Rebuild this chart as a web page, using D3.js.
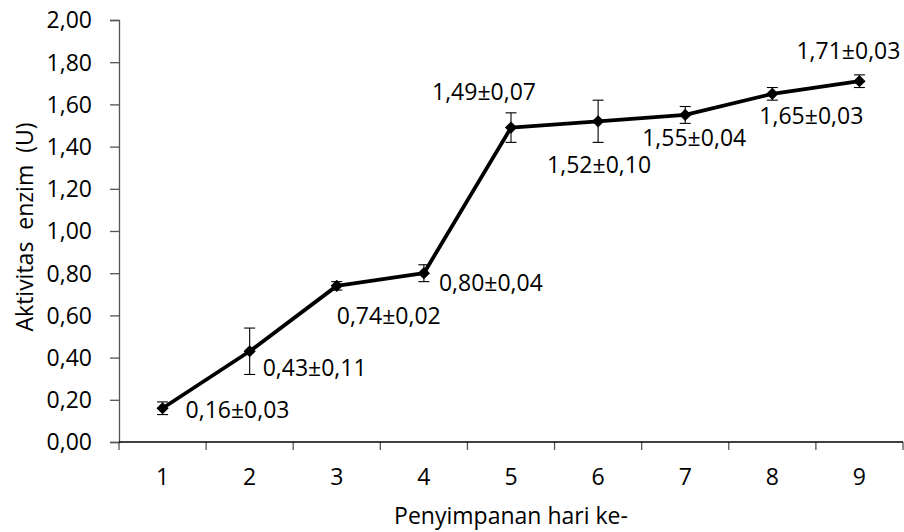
<!DOCTYPE html>
<html>
<head>
<meta charset="utf-8">
<script src="https://cdn.jsdelivr.net/npm/d3@7"></script>
<style>
  body { margin: 0; background: #fff; }
  text { font-family: "Open Sans", sans-serif; fill: #000; }
</style>
</head>
<body>
<svg id="graph" width="904" height="532"></svg>
<script>
// données : hari penyimpanan, aktivitas enzim (U) et écart-type
const hari = ["1", "2", "3", "4", "5", "6", "7", "8", "9"];
const aktivitas = [0.16, 0.43, 0.74, 0.80, 1.49, 1.52, 1.55, 1.65, 1.71];
const sd = [0.03, 0.11, 0.02, 0.04, 0.07, 0.10, 0.04, 0.03, 0.03];
const yTicks = [0, 0.2, 0.4, 0.6, 0.8, 1.0, 1.2, 1.4, 1.6, 1.8, 2.0];

// placement des étiquettes autour des points (dx, dy en pixels)
const labelOffset = [[23, 10], [13, 25], [0, 38], [15, 18], [-79, -28], [-51, 52], [-43, 31], [-13, 30], [-63, -22]];

const fmt = v => v.toFixed(2).replace(".", ",");
const taille = "23px";

const svg = d3.select("#graph");
const gauche = 119, droite = 903, haut = 20, bas = 442;

const x = d3.scaleBand().domain(hari).range([gauche, droite]).padding(0);
const y = d3.scaleLinear().domain([0, 2]).range([bas, haut]);

// axe Y
const gy = svg.append("g")
    .attr("transform", `translate(${gauche},0)`)
    .call(d3.axisLeft(y).tickValues(yTicks).tickSize(9).tickPadding(18).tickFormat(fmt));
gy.select(".domain").attr("stroke", "#555").attr("stroke-width", 1.3);
gy.selectAll(".tick line").attr("stroke", "#555").attr("stroke-width", 1.3);
gy.selectAll(".tick text").style("font-size", taille).attr("dy", "0.34em").attr("fill", "#000");

// axe X : étiquettes au centre des bandes
const gx = svg.append("g")
    .attr("transform", `translate(0,${bas})`)
    .call(d3.axisBottom(x).tickSize(0).tickPadding(27));
gx.select(".domain").remove();
gx.selectAll(".tick text").style("font-size", taille).attr("fill", "#000");

// traits de graduation entre les bandes
const bornes = hari.map(d => x(d)).concat([droite]);
svg.append("g").selectAll("line")
    .data(bornes)
    .join("line")
    .attr("x1", d => d).attr("x2", d => d)
    .attr("y1", bas).attr("y2", bas + 8)
    .attr("stroke", "#555").attr("stroke-width", 1.3);

svg.append("line")
    .attr("x1", gauche).attr("x2", droite)
    .attr("y1", bas).attr("y2", bas)
    .attr("stroke", "#000").attr("stroke-width", 1.5);

const cx = i => x(hari[i]) + x.bandwidth() / 2;

// barres d'erreur
const err = svg.append("g").attr("stroke", "#000").attr("stroke-width", 1.1);
aktivitas.forEach((v, i) => {
    const y1 = y(v + sd[i]), y2 = y(v - sd[i]);
    err.append("line").attr("x1", cx(i)).attr("x2", cx(i)).attr("y1", y1).attr("y2", y2);
    err.append("line").attr("x1", cx(i) - 5.5).attr("x2", cx(i) + 5.5).attr("y1", y1).attr("y2", y1);
    err.append("line").attr("x1", cx(i) - 5.5).attr("x2", cx(i) + 5.5).attr("y1", y2).attr("y2", y2);
});

// ligne
svg.append("path")
    .datum(aktivitas)
    .attr("fill", "none")
    .attr("stroke", "#000")
    .attr("stroke-width", 3.8)
    .attr("stroke-linejoin", "round")
    .attr("d", d3.line().x((d, i) => cx(i)).y(d => y(d)));

// marqueurs losange
svg.append("g").selectAll("path")
    .data(aktivitas)
    .join("path")
    .attr("transform", (d, i) => `translate(${cx(i)},${y(d)})`)
    .attr("d", d3.symbol(d3.symbolDiamond2, 95))
    .attr("fill", "#000");

// étiquettes valeur±sd
svg.append("g").selectAll("text")
    .data(aktivitas)
    .join("text")
    .attr("x", (d, i) => cx(i) + labelOffset[i][0])
    .attr("y", (d, i) => y(d) + labelOffset[i][1])
    .style("font-size", taille)
    .text((d, i) => fmt(d) + "±" + fmt(sd[i]));

// titres des axes
svg.append("text")
    .attr("x", 511).attr("y", 524)
    .attr("text-anchor", "middle")
    .style("font-size", taille)
    .text("Penyimpanan hari ke-");

svg.append("text")
    .attr("transform", "translate(33,227) rotate(-90)")
    .attr("text-anchor", "middle")
    .style("font-size", taille)
    .style("white-space", "pre")
    .text("Aktivitas  enzim  (U)");
</script>
</body>
</html>
